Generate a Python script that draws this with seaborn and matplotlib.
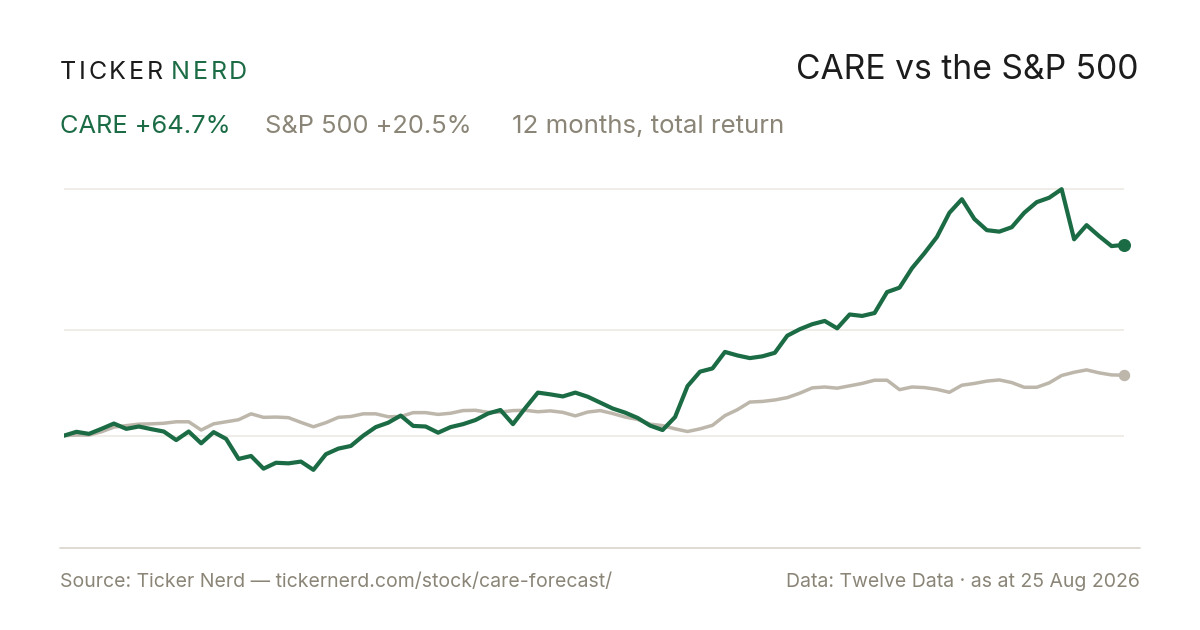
"""CARE vs the S&P 500: 12 month total return line chart (Ticker Nerd style)."""

import numpy as np
import pandas as pd
import matplotlib

matplotlib.use("Agg")
import matplotlib.pyplot as plt
import seaborn as sns

# --- data (cumulative total return, %) ------------------------------------
ticker = "CARE"
bench = "S&P 500"
period_label = "12 months, total return"

care_ret = [
    0.0, 1.3, 0.6, 2.3, 4.1, 2.3, 3.1, 2.2, 1.4, -1.5,
    1.4, -2.6, 1.2, -1.1, -7.9, -6.9, -11.2, -9.2, -9.4, -8.8,
    -11.6, -6.3, -4.4, -3.5, 0.0, 2.9, 4.4, 6.8, 3.3, 3.1,
    1.0, 2.9, 3.9, 5.3, 7.5, 8.7, 3.9, 9.4, 14.6, 14.0,
    13.3, 14.6, 13.2, 11.2, 9.2, 7.8, 6.0, 3.4, 1.9, 6.3,
    16.8, 21.7, 22.8, 28.4, 27.2, 26.3, 26.9, 28.1, 33.9, 36.1,
    37.8, 38.9, 36.4, 41.1, 40.6, 41.6, 48.7, 50.2, 56.8, 61.9,
    67.4, 75.6, 80.2, 73.5, 69.7, 69.2, 70.7, 75.6, 79.2, 80.7,
    83.6, 66.6, 71.4, 67.7, 64.3, 64.7,
]
spx_ret = [
    0.0, 0.2, 0.2, 1.3, 2.9, 3.4, 3.9, 4.0, 4.2, 4.7,
    4.7, 1.9, 4.0, 4.7, 5.4, 7.4, 6.2, 6.3, 6.1, 4.5,
    3.0, 4.4, 6.2, 6.5, 7.4, 7.4, 6.4, 6.5, 7.8, 7.8,
    7.2, 7.6, 8.5, 8.6, 7.9, 8.0, 8.5, 8.6, 8.1, 8.4,
    7.9, 6.7, 8.0, 8.5, 7.5, 6.3, 5.5, 3.9, 3.4, 2.3,
    1.4, 2.3, 3.5, 6.8, 8.8, 11.4, 11.6, 12.1, 12.9, 14.4,
    16.2, 16.5, 16.1, 16.9, 17.7, 18.8, 18.8, 15.6, 16.5, 16.3,
    15.7, 14.7, 17.1, 17.7, 18.5, 18.9, 18.0, 16.4, 16.4, 17.9,
    20.4, 21.5, 22.3, 21.3, 20.6, 20.5,
]
source_note = "Source: Ticker Nerd \u2014 tickernerd.com/stock/care-forecast/"
data_note = "Data: Twelve Data \u00b7 as at 25 Aug 2026"

GREEN = "#1b6b45"
BEIGE = "#bdb6ab"
MUTED = "#8a8577"
INK = "#1c1c1c"
GRID = "#ece8e1"
RULE = "#ddd8ce"

sns.set_theme(style="white")
plt.rcParams["font.family"] = ["Inter", "DejaVu Sans"]

W, H = 1200, 630
fig = plt.figure(figsize=(W / 100, H / 100), dpi=100)
fig.patch.set_facecolor("white")


def fx(px):
    return px / W


def fy(py):
    return 1 - py / H


# plot area: x 64..1124 px, y 160..540 px
ax = fig.add_axes([fx(64), fy(540), (1124 - 64) / W, (540 - 160) / H])
ax.set_facecolor("white")

df = pd.DataFrame({"step": np.arange(len(care_ret)),
                   ticker: care_ret, bench: spx_ret})

top = max(care_ret)
mid = (max(care_ret) + min(care_ret)) / 2
for g in (top, mid, 0.0):
    ax.axhline(g, color=GRID, lw=1.1, zorder=0)

sns.lineplot(data=df, x="step", y=bench, ax=ax, color=BEIGE, lw=2.5,
             zorder=2, legend=False)
sns.lineplot(data=df, x="step", y=ticker, ax=ax, color=GREEN, lw=3.0,
             zorder=3, legend=False)
last = df.iloc[[-1]]
ax.scatter(last["step"], last[bench], s=52, color=BEIGE, zorder=4, clip_on=False)
ax.scatter(last["step"], last[ticker], s=70, color=GREEN, zorder=5, clip_on=False)

ax.set_xlim(0, len(care_ret) - 1)
ax.set_ylim(-35.4, 93.5)
ax.set_xlabel("")
ax.set_ylabel("")
ax.set_xticks([])
ax.set_yticks([])
for s in ax.spines.values():
    s.set_visible(False)

# --- header -----------------------------------------------------------------
renderer = fig.canvas.get_renderer()


def tracked(x_px, y_px, word, color, size, track):
    for ch in word:
        t = fig.text(fx(x_px), fy(y_px), ch, color=color, fontsize=size,
                     va="baseline", ha="left")
        x_px += t.get_window_extent(renderer).width + track
    return x_px


x_end = tracked(60, 79, "TICKER", INK, 18, 2.6)
tracked(x_end + 6, 79, "NERD", GREEN, 18, 2.6)

fig.text(fx(1138), fy(79), f"{ticker} vs the {bench}", color=INK,
         fontsize=24.2, ha="right", va="baseline")

fig.text(fx(60), fy(133), f"{ticker} {care_ret[-1]:+.1f}%", color=GREEN,
         fontsize=18.3, va="baseline")
fig.text(fx(265), fy(133), f"{bench} {spx_ret[-1]:+.1f}%", color=MUTED,
         fontsize=18.3, va="baseline")
fig.text(fx(512), fy(133), period_label, color=MUTED,
         fontsize=18.6, va="baseline")

# --- footer -----------------------------------------------------------------
fig.add_artist(plt.Line2D([fx(60), fx(1140)], [fy(548), fy(548)],
                          color=RULE, lw=1.3, transform=fig.transFigure))
fig.text(fx(60), fy(587), source_note, color=MUTED, fontsize=14,
         va="baseline")
fig.text(fx(1140), fy(587), data_note, color=MUTED, fontsize=14,
         ha="right", va="baseline")

fig.savefig("out.png", dpi=100, facecolor="white")
plt.close(fig)
